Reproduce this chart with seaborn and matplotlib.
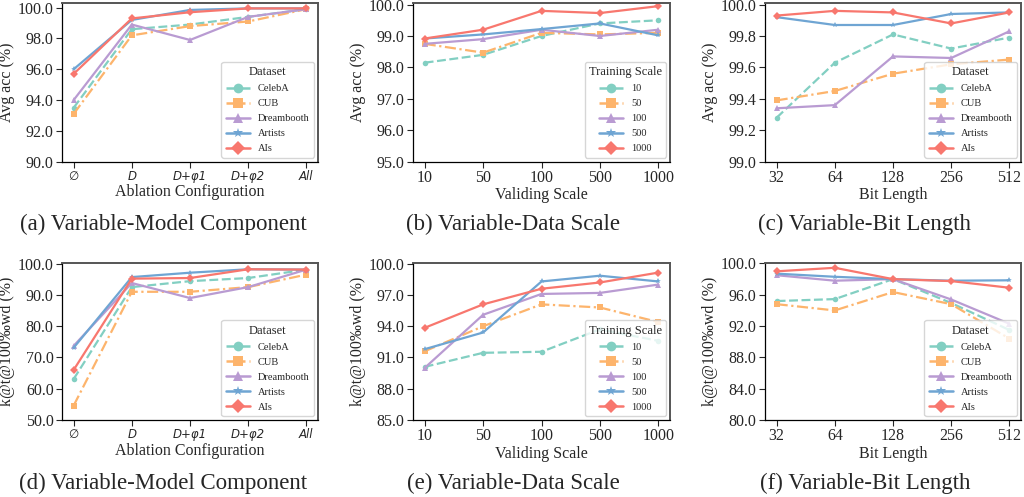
import pandas as pd
import seaborn as sns
import matplotlib.pyplot as plt
from matplotlib.ticker import FormatStrFormatter

# categories
datasets = ["CelebA", "CUB", "Dreambooth", "Artists", "AIs"]
train_scales = ["10", "50", "100", "500", "1000"]
components = ["∅", "D", "D+φ1", "D+φ2", "All"]
valid_scales = ["10", "50", "100", "500", "1000"]
bit_lengths = ["32", "64", "128", "256", "512"]

# (a) Avg acc vs model component
acc_component = {
    "CelebA":     [93.5, 98.6, 98.9, 99.4, 99.9],
    "CUB":        [93.1, 98.2, 98.8, 99.1, 99.9],
    "Dreambooth": [94.0, 98.9, 97.9, 99.4, 99.9],
    "Artists":    [96.0, 99.2, 99.85, 99.95, 99.95],
    "AIs":        [95.7, 99.3, 99.7, 99.95, 99.95],
}
# (b) Avg acc vs validing scale (per training scale)
acc_scale = {
    "10":   [98.15, 98.4, 99.0, 99.4, 99.5],
    "50":   [98.75, 98.47, 99.1, 99.05, 99.1],
    "100":  [98.75, 98.9, 99.2, 99.0, 99.2],
    "500":  [98.92, 99.05, 99.22, 99.4, 99.02],
    "1000": [98.92, 99.2, 99.8, 99.73, 99.95],
}
# (c) Avg acc vs bit length
acc_bits = {
    "CelebA":     [99.28, 99.63, 99.81, 99.72, 99.79],
    "CUB":        [99.39, 99.45, 99.56, 99.62, 99.65],
    "Dreambooth": [99.34, 99.36, 99.67, 99.66, 99.83],
    "Artists":    [99.92, 99.87, 99.87, 99.94, 99.95],
    "AIs":        [99.93, 99.96, 99.95, 99.88, 99.95],
}
# (d) k@t@100‰wd vs model component
kt_component = {
    "CelebA":     [63.1, 92.5, 94.4, 95.4, 98.1],
    "CUB":        [54.6, 91.0, 91.0, 92.5, 96.5],
    "Dreambooth": [73.7, 93.8, 89.0, 92.5, 98.1],
    "Artists":    [73.1, 95.7, 97.1, 98.2, 98.1],
    "AIs":        [66.0, 95.2, 95.4, 98.2, 98.1],
}
# (e) k@t@100‰wd vs validing scale
kt_scale = {
    "10":   [90.1, 91.45, 91.55, 93.7, 92.6],
    "50":   [91.6, 94.0, 96.1, 95.8, 94.4],
    "100":  [90.0, 95.1, 97.1, 97.2, 98.0],
    "500":  [91.8, 93.4, 98.3, 98.85, 98.3],
    "1000": [93.85, 96.1, 97.6, 98.2, 99.15],
}
# (f) k@t@100‰wd vs bit length
kt_bits = {
    "CelebA":     [95.2, 95.45, 98.0, 94.95, 91.5],
    "CUB":        [94.8, 94.0, 96.35, 94.8, 90.4],
    "Dreambooth": [98.5, 97.8, 98.0, 95.4, 92.3],
    "Artists":    [98.7, 98.3, 98.0, 97.8, 97.85],
    "AIs":        [99.0, 99.45, 98.0, 97.75, 96.9],
}

colors = ["#82cfc2", "#fdb46c", "#b99bd2", "#6fa5d3", "#f8776e"]
markers = ["o", "s", "^", "*", "D"]
dashes = [(4, 1.6), (5, 1.6, 1, 1.6), "", "", ""]

sns.set_style("ticks")
plt.rcParams["font.family"] = ["Liberation Serif", "DejaVu Serif"]

fig = plt.figure(figsize=(10.24, 4.97), dpi=100)

W, H = 1024, 497
lefts = [62, 413, 765]
widths = [256, 257, 256]
rows = [(3, 161.7), (262.7, 420)]


def draw(ax, xs, series, hue_name, ylim, yticks, xlabel, ylabel, italic=False):
    rec = [(x, k, v) for k, vals in series.items() for x, v in zip(xs, vals)]
    df = pd.DataFrame(rec, columns=["x", hue_name, "y"])
    sns.lineplot(data=df, x="x", y="y", hue=hue_name, style=hue_name,
                 palette=colors, markers=markers, dashes=dashes, sort=False,
                 lw=1.6, markersize=4, markeredgewidth=0, ax=ax)
    ax.set_ylim(*ylim)
    ax.set_yticks(yticks)
    ax.yaxis.set_major_formatter(FormatStrFormatter("%.1f"))
    ax.set_xlim(-0.2, 4.2)
    ax.set_xlabel(xlabel, fontsize=11.5, labelpad=1)
    ax.set_ylabel(ylabel, fontsize=11.5, labelpad=2)
    ax.tick_params(axis="both", labelsize=11.5, length=4, width=0.8, pad=2)
    if italic:
        for t in ax.get_xticklabels():
            t.set_fontfamily("DejaVu Sans")
            t.set_fontstyle("italic")
            t.set_fontsize(8.5)
    for s in ["left", "bottom"]:
        ax.spines[s].set_color("black")
        ax.spines[s].set_linewidth(0.9)
    for s in ["top", "right"]:
        ax.spines[s].set_color("#555555")
        ax.spines[s].set_linewidth(1.4)
    sns.move_legend(ax, "lower right", title=hue_name, fontsize=7.5,
                    title_fontsize=9, frameon=True, handlelength=2.3,
                    borderaxespad=0.4, labelspacing=0.55)
    leg = ax.get_legend()
    for h in leg.legend_handles:
        h.set_markersize(7)
        h.set_markeredgewidth(0)
        h.set_linewidth(1.8)


panels = [
    (components, acc_component, "Dataset", (90, 100.3), [90, 92, 94, 96, 98, 100],
     "Ablation Configuration", "Avg acc (%)", True),
    (valid_scales, acc_scale, "Training Scale", (95, 100.05), [95, 96, 97, 98, 99, 100],
     "Validing Scale", "Avg acc (%)", False),
    (bit_lengths, acc_bits, "Dataset", (99, 100.01), [99.0, 99.2, 99.4, 99.6, 99.8, 100.0],
     "Bit Length", "Avg acc (%)", False),
    (components, kt_component, "Dataset", (50, 100.3), [50, 60, 70, 80, 90, 100],
     "Ablation Configuration", "k@t@100‰wd (%)", True),
    (valid_scales, kt_scale, "Training Scale", (85, 100.1), [85, 88, 91, 94, 97, 100],
     "Validing Scale", "k@t@100‰wd (%)", False),
    (bit_lengths, kt_bits, "Dataset", (80, 100.1), [80, 84, 88, 92, 96, 100],
     "Bit Length", "k@t@100‰wd (%)", False),
]
captions = ["(a) Variable-Model Component", "(b) Variable-Data Scale",
            "(c) Variable-Bit Length", "(d) Variable-Model Component",
            "(e) Variable-Data Scale", "(f) Variable-Bit Length"]
cap_x = [163, 513.5, 865]
cap_y = [224, 483]

for i, p in enumerate(panels):
    r, c = divmod(i, 3)
    top, bot = rows[r]
    ax = fig.add_axes([lefts[c] / W, 1 - bot / H, widths[c] / W, (bot - top) / H])
    draw(ax, *p)
    fig.text(cap_x[c] / W, 1 - cap_y[r] / H, captions[i], fontsize=16.5,
             ha="center", va="center")

fig.savefig("out.png", dpi=100)
